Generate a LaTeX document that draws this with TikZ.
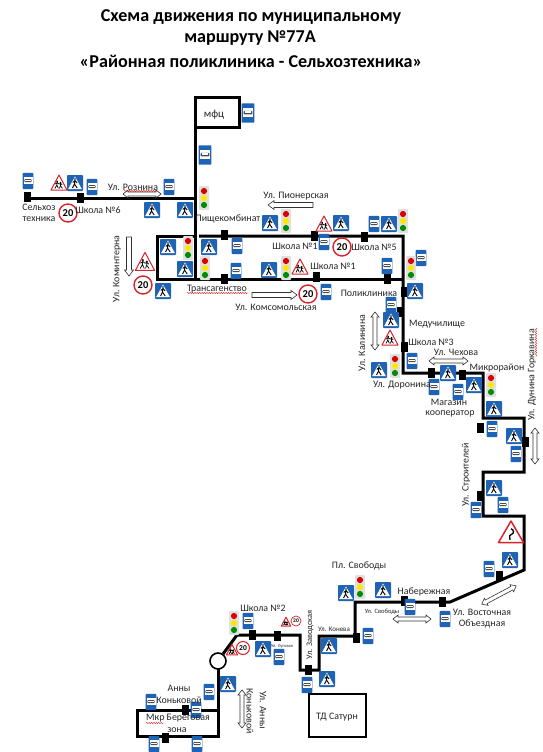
\documentclass[tikz,border=0pt]{standalone}
\usepackage{fontspec}
\setmainfont{Carlito}
\usetikzlibrary{decorations.pathmorphing}
\definecolor{sblue}{HTML}{1F63B5}
\definecolor{sred}{HTML}{D8232A}
\tikzset{
 route/.style={line width=3pt,line join=miter,line cap=butt},
 lbl/.style={inner sep=0pt,font=\fontsize{9.9}{11}\selectfont,text=black!85},
 rot/.style={lbl,rotate=90},
 rotd/.style={lbl,rotate=-90},
 ttl/.style={font=\bfseries\fontsize{18.1}{20}\selectfont,inner sep=0pt},
 squig/.style={red!80!black,line width=.4pt,decorate,decoration={snake,amplitude=.5pt,segment length=2.4pt}},
 hollow/.style={draw=black!80,line width=.6pt,fill=white,line join=miter},
 pics/stopm/.style={code={\fill[black] (-3.5,-5) rectangle (3.5,5);}},
 pics/bus/.style={code={
   \fill[sblue,rounded corners=.8pt] (-6,-9) rectangle (6,9);
   \fill[white] (-5,-4.5) rectangle (5,3.5);
   \fill[black!70,rounded corners=.8pt] (-4,-2) rectangle (4,1.2);
   \fill[white] (-3,-1.4) rectangle (3,-.4);}},
 pics/cross/.style={code={
   \fill[sblue,rounded corners=.8pt] (-8,-8) rectangle (8,8);
   \fill[white] (0,-6.5) -- (6.8,6) -- (-6.8,6) -- cycle;
   \fill[black] (0,-4) circle (.9);
   \draw[black,line width=.9pt] (0,-3) -- (-.5,1) -- (-2.5,5) (-.5,1) -- (2.2,5) (-2.2,-.5) -- (0,-2.5) -- (2.2,0);}},
 pics/light/.style={code={
   \fill[black!12,rounded corners=1pt] (-5,-12) rectangle (5,12);
   \fill[red!85!black] (0,-7) circle (3.1);
   \fill[yellow!90!orange] (0,0) circle (3.1);
   \fill[green!55!black] (0,7) circle (3.1);}},
 pics/kids/.style={code={
   \draw[sred,fill=white,line width=1pt,line join=round] (0,-8) -- (8,7) -- (-8,7) -- cycle;
   \fill[black] (-1.8,-1.6) circle (.9) (1.6,-.4) circle (.8);
   \draw[black,line width=.7pt] (-1.8,-1) -- (-2.2,2) -- (-4,5.4) (-2.2,2) -- (-.6,5.4) (-3.8,1) -- (-1.8,-.4) -- (0,1);
   \draw[black,line width=.7pt] (1.6,0) -- (1.4,2.6) -- (.4,5.4) (1.4,2.6) -- (3.4,5.4) (0,1) -- (1.6,.4) -- (3.2,1.8);}},
 pics/curve/.style={code={
   \draw[sred,fill=white,line width=1.5pt,line join=round] (0,-12) -- (12.5,9.5) -- (-12.5,9.5) -- cycle;
   \draw[black,line width=1.3pt] (-1,7) .. controls (-1.5,3) and (-2,1.5) .. (1,1) .. controls (3.2,.5) and (3,-3.5) .. (0,-4.2);}},
 limit/.style={circle,draw=sred,fill=white,line width=1.4pt,inner sep=0pt,minimum size=#1,text=black},
 lim18/.style={limit=18pt,font=\bfseries\fontsize{10.5}{11}\selectfont},
}
% hollow arrows: #1 centre, #2 half length, #3 angle
\newcommand{\arrS}[3]{\draw[hollow,shift={(#1)},rotate=#3] (-#2,-2.5) -- (#2-6,-2.5) -- (#2-6,-4.5) -- (#2,0) -- (#2-6,4.5) -- (#2-6,2.5) -- (-#2,2.5) -- cycle;}
\newcommand{\arrD}[3]{\draw[hollow,shift={(#1)},rotate=#3] (-#2,0) -- (-#2+5,-4) -- (-#2+5,-2) -- (#2-5,-2) -- (#2-5,-4) -- (#2,0) -- (#2-5,4) -- (#2-5,2) -- (-#2+5,2) -- (-#2+5,4) -- cycle;}
\begin{document}
\begin{tikzpicture}[x=1pt,y=-1pt]
\useasboundingbox (0,0) rectangle (543,752);
\fill[white] (0,0) rectangle (543,752);
% routes
\draw[route] (27,198) -- (195,198);
\draw[route] (195,97) rectangle (239,127);
\draw[route] (195,127) -- (195,279);
\draw[route] (195,236) -- (157,236) -- (157,279) -- (403,279);
\draw[route] (199,236) -- (403,236) -- (403,373) -- (483,373) -- (483,418) -- (524,418) -- (524,472) -- (483,472) -- (483,516) -- (524,516) -- (524,570) -- (450,602) -- (355,602) -- (355,636) -- (319,636) -- (319,670) -- (300,670) -- (300,635) -- (237,635) -- (223,654);
\draw[route] (218,669) -- (218,736) -- (137,736) -- (137,710) -- (218,710);
\draw[line width=1.6pt,fill=white] (218,661) circle (8);
\draw[line width=1.1pt] (309,694) rectangle (366,737);
% stop marks
\foreach \x/\y in {27/197,80/198,224/235,224/279,314/236,364/237,316/277,387/279,404/292,400/312,404/347,431/373,462/375,480/428,525/442,480/496,499/576,442/602,404/601,356/638,308/670,277/636,252/635,185/710,165/738}
  \pic at (\x,\y) {stopm};
% bus
\foreach \x/\y in {28/181,92/187,169/187,237/246,236/271,324/242,374/224,387/266,421/258,326/292,391/305,412/361,434/387,458/392,492/429,516/454,503/505,476/510,489/569,410/607,445/619,368/636,248/621,279/657,307/685,209/692,151/702,196/710,154/744,197/744}
  \pic[scale=.9,transform shape] at (\x,\y) {bus};
\foreach \x/\y in {248/113,205/155}
  \pic[scale=1.08,transform shape] at (\x,\y) {bus};
% crossings
\foreach \x/\y in {75/183,152/210,185/210,168/247,185/269,209/247,163/291,270/223,341/223,389/224,269/270,415/291,391/320,379/370,448/373,474/385,494/409,514/436,494/488,510/560,383/590,346/593,329/646,327/679,263/649,228/684}
  \pic at (\x,\y) {cross};
% lights
\foreach \x/\y in {204/198,188/248,205/268,286/221,403/221,286/268,411/268,395/366,491/385,360/587,234/623}
  \pic at (\x,\y) {light};
% kids
\foreach \x/\y in {59/183,324/224,300/267,390/338}
  \pic at (\x,\y) {kids};
\pic[scale=1.2,transform shape] at (145,262) {kids};
\pic[scale=.6,transform shape] at (286,622) {kids};
\pic[scale=.7,transform shape] at (232,650) {kids};
\pic at (511,533) {curve};
% limits
\node[lim18] (lim1) at (68,213) {20};
\node[lim18] (lim2) at (143,285) {20};
\node[lim18] (lim3) at (342,247) {20};
\node[lim18] (lim4) at (308,294) {20};
\node[limit=13pt,font=\bfseries\fontsize{7.5}{8}\selectfont,line width=1pt] (lim5) at (243,648) {20};
\node[limit=10pt,font=\bfseries\fontsize{5.5}{6}\selectfont,line width=.7pt] (lim6) at (296,621) {20};
% arrows
\arrS{129,256.5}{19.5}{-90}
\arrS{274.5,295}{22.5}{0}
\arrS{290.5,205}{22.5}{180}
\arrD{142,194}{19}{0}
\arrD{375,331}{19}{90}
\arrD{448.5,361}{19.5}{0}
\arrD{535,446}{18}{90}
\arrD{499,595}{19.5}{28}
\arrD{412,619}{19}{0}
\arrD{242,709}{19}{90}
% title
\node[ttl] (t1) at (251,17) {Схема движения по муниципальному};
\node[ttl] (t2) at (250,38) {маршруту №77А};
\node[ttl] (t3) at (251,61) {«Районная поликлиника - Сельхозтехника»};
% labels
\node[lbl,font=\fontsize{11}{12}\selectfont] (n1) at (214,115) {мфц};
\node[lbl] (n2) at (133,187) {Ул. Рознина};
\node[lbl] (n3) at (39,207) {Сельхоз};
\node[lbl] (n4) at (39,219) {техника};
\node[lbl] (n5) at (98,210) {Школа №6};
\node[lbl] (n6) at (228,219) {Пищекомбинат};
\node[rot] (n7) at (117,269) {Ул. Коминтерна};
\node[lbl] (n8) at (217,289) {Трансагенство};
\node[lbl] (n9) at (276,307) {Ул. Комсомольская};
\node[lbl] (n10) at (296,196) {Ул. Пионерская};
\node[lbl] (n11) at (295,246) {Школа №1};
\node[lbl] (n12) at (374,247) {Школа №5};
\node[lbl] (n13) at (333,266) {Школа №1};
\node[lbl] (n14) at (369,293) {Поликлиника};
\node[lbl] (n15) at (437,324) {Медучилище};
\node[lbl] (n16) at (431,342.5) {Школа №3};
\node[lbl] (n17) at (456,352) {Ул. Чехова};
\node[lbl] (n18) at (497,368) {Микрорайон};
\node[lbl] (n19) at (402,385) {Ул. Доронина};
\node[lbl] (n20) at (449,402) {Магазин};
\node[lbl] (n21) at (450,414) {кооператор};
\node[rot] (n22) at (362,343) {Ул. Калинина};
\node[rot] (n23) at (532,375) {Ул. Дунина Горкавина};
\node[rot] (n24) at (466,475) {Ул. Строителей};
\node[lbl] (n25) at (359,566) {Пл. Свободы};
\node[lbl] (n26) at (424,592) {Набережная};
\node[lbl,font=\fontsize{6.5}{7}\selectfont] (n27) at (382,612) {Ул. Свободы};
\node[lbl] (n28) at (482,612) {Ул. Восточная};
\node[lbl] (n29) at (482,624) {Объездная};
\node[lbl,font=\fontsize{7}{8}\selectfont] (n30) at (334,629) {Ул. Конева};
\node[rot,font=\fontsize{8.5}{9}\selectfont] (n31) at (310,635) {Ул. Заводская};
\node[lbl] (n32) at (263,608) {Школа №2};
\node[lbl,font=\fontsize{4.5}{5}\selectfont] (n33) at (282,646) {Ул. Луговая};
\node[lbl] (n34) at (179,688) {Анны};
\node[lbl] (n35) at (179,700) {Коньковой};
\node[lbl] (n36) at (178,718) {Мкр Береговая};
\node[lbl] (n37) at (177,730) {зона};
\node[lbl] (n38) at (337,717) {ТД Сатурн};
\node[rotd] (n39) at (263,710) {Ул. Анны};
\node[rotd] (n40) at (250,711) {Коньковой};
% spell-check squiggles
\draw[squig] (124,191) -- (157,191);
\draw[squig] (187,293) -- (248,293);
\draw[squig] (146,723) -- (164,723);
\draw[squig] (536,328) -- (536,357);
\end{tikzpicture}
\end{document}
